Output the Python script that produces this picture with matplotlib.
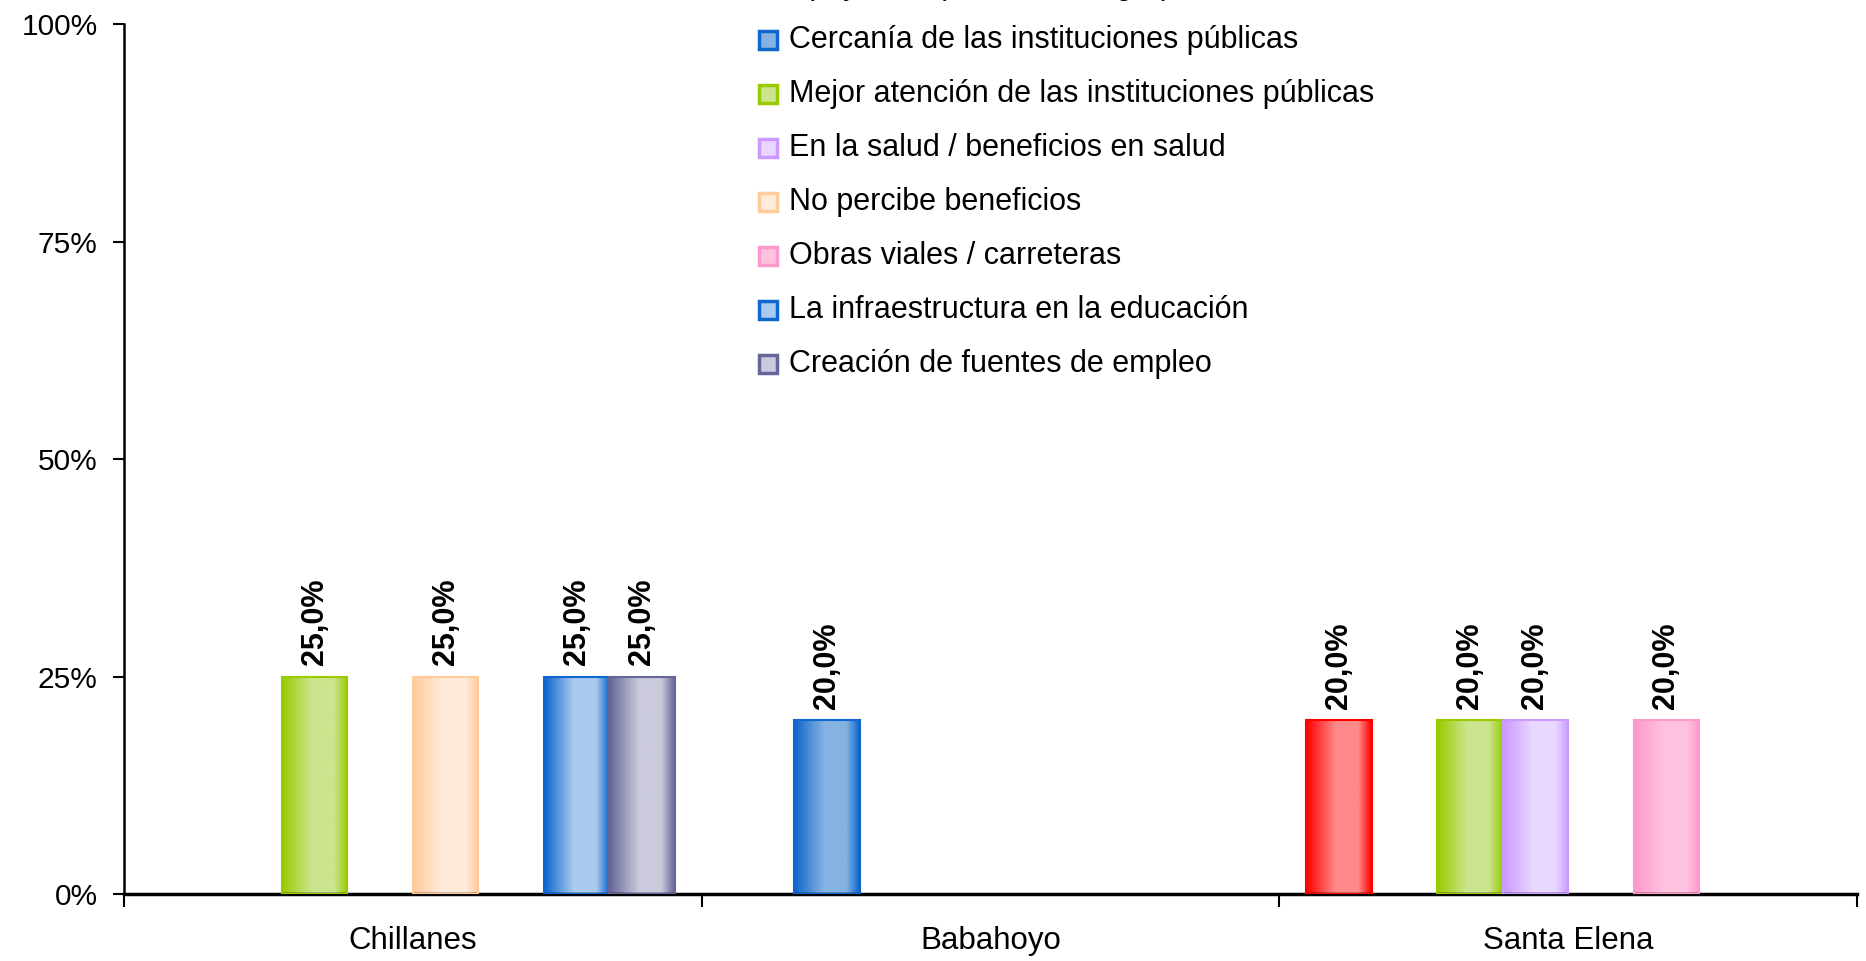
import numpy as np
import matplotlib
matplotlib.use("Agg")
import matplotlib.pyplot as plt
import matplotlib.patches as patches
from matplotlib.colors import LinearSegmentedColormap
from matplotlib.ticker import FixedLocator, FuncFormatter

plt.rcParams['font.family'] = ['Liberation Sans', 'DejaVu Sans']

# data
cantones = ["Chillanes", "Babahoyo", "Santa Elena"]
series_labels = [
    "Apoyo a la producción agropecuaria",   # top entry, cut off in the original
    "Cercanía de las instituciones públicas",
    "Mejor atención de las instituciones públicas",
    "En la salud / beneficios en salud",
    "No percibe beneficios",
    "Obras viales / carreteras",
    "La infraestructura en la educación",
    "Creación de fuentes de empleo",
]
apoyo = [np.nan, np.nan, 0.20]
cercania = [np.nan, 0.20, np.nan]
mejor_atencion = [0.25, np.nan, 0.20]
salud = [np.nan, np.nan, 0.20]
no_percibe = [0.25, np.nan, np.nan]
obras_viales = [np.nan, np.nan, 0.20]
educacion = [0.25, np.nan, np.nan]
empleo = [0.25, np.nan, np.nan]
series_values = [apoyo, cercania, mejor_atencion, salud,
                 no_percibe, obras_viales, educacion, empleo]

# (edge colour, light centre colour) for the shaded bars
edge_cols = ["#FF0000", "#0F66CC", "#99CC00", "#CC99FF",
             "#FFCC99", "#FF99CC", "#0F66CC", "#666699"]
light_cols = ["#FF8A8A", "#84B2E2", "#CCE48E", "#E8D8FF",
              "#FFEBDC", "#FFC2DE", "#A8CAEE", "#CACADC"]

fig = plt.figure(figsize=(18.66, 9.61), dpi=100)
ax = fig.add_axes([124 / 1866, 1 - 894 / 961, (1857 - 124) / 1866, (894 - 24) / 961])

n = len(series_values)
group_w = 0.907
bar_w = group_w / n
x = np.arange(len(cantones))

for k, vals in enumerate(series_values):
    offs = -group_w / 2 + bar_w / 2 + k * bar_w
    cmap = LinearSegmentedColormap.from_list(
        "g%d" % k,
        [(0.0, edge_cols[k]), (0.45, light_cols[k]), (0.8, light_cols[k]), (1.0, edge_cols[k])])
    grad = np.linspace(0, 1, 64).reshape(1, -1)
    for i, v in enumerate(vals):
        if np.isnan(v):
            continue
        x0 = x[i] + offs - bar_w / 2
        ax.imshow(grad, cmap=cmap, aspect='auto', extent=[x0, x0 + bar_w, 0, v],
                  origin='lower', zorder=2, interpolation='bilinear')
        ax.add_patch(patches.Rectangle((x0, 0), bar_w, v, fill=False,
                                       edgecolor=edge_cols[k], lw=1.5, zorder=3))
        ax.annotate("{:.1f}%".format(v * 100).replace(".", ","),
                    (x[i] + offs, v), xytext=(0, 8), textcoords='offset points',
                    rotation=90, ha='center', va='bottom', fontsize=22,
                    fontweight='bold', color='black')

ax.set_xlim(-0.5, len(cantones) - 0.5)
ax.set_ylim(0, 1)
ax.set_aspect('auto')

ax.yaxis.set_major_locator(FixedLocator([0, 0.25, 0.5, 0.75, 1.0]))
ax.yaxis.set_major_formatter(FuncFormatter(lambda v, p: "{:.0f}%".format(v * 100)))
ax.tick_params(axis='y', direction='out', length=8, width=1.5, pad=11, labelsize=21.5)

ax.set_xticks(np.arange(len(cantones) + 1) - 0.5)
ax.set_xticklabels([])
ax.set_xticks(x, minor=True)
ax.set_xticklabels(cantones, minor=True)
ax.tick_params(axis='x', which='major', direction='out', length=9, width=1.5)
ax.tick_params(axis='x', which='minor', length=0, pad=23, labelsize=22.5)

for s in ['top', 'right']:
    ax.spines[s].set_visible(False)
ax.spines['left'].set_linewidth(1.8)
ax.spines['bottom'].set_linewidth(2.5)

# legend drawn by hand so the top entry can run off the figure like the original
W, H = 1866.0, 961.0
y_first = -14
pitch = 54
for k, lab in enumerate(series_labels):
    yc = y_first + k * pitch
    fig.patches.append(patches.Rectangle(
        (759 / W, 1 - (yc + 9) / H), 18 / W, 18 / H, transform=fig.transFigure,
        facecolor=light_cols[k], edgecolor=edge_cols[k], lw=2.5))
    fig.text(789 / W, 1 - yc / H, lab, fontsize=22, va='center', ha='left')

fig.savefig("out.png", dpi=100)
